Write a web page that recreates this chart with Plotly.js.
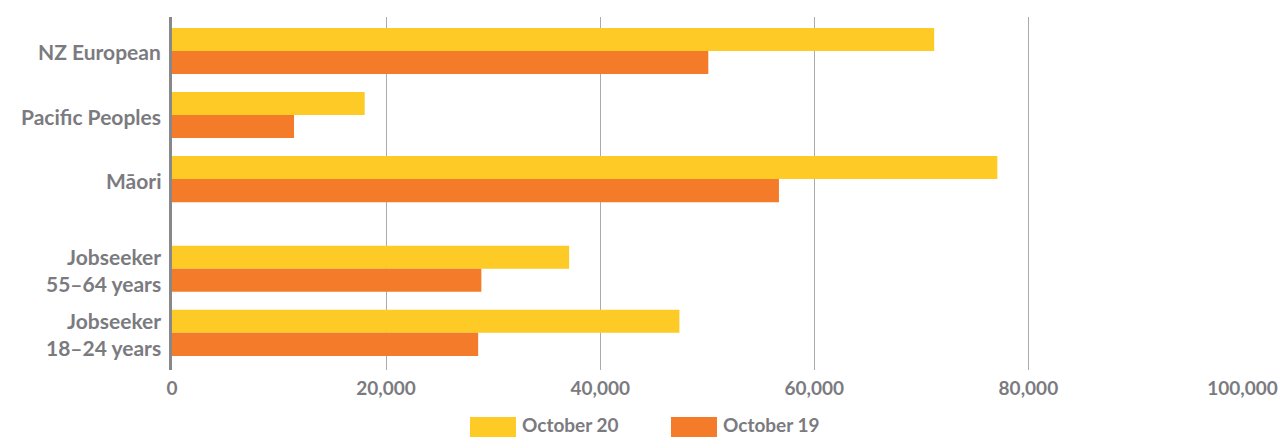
<!DOCTYPE html>
<html>
<head>
<meta charset="utf-8">
<script src="https://cdn.plot.ly/plotly-3.0.1.min.js"></script>
<style>html,body{margin:0;padding:0;background:#fff;}#chart{width:1285px;height:437px;}</style>
</head>
<body>
<div id="chart"></div>
<script>
// ---- data ----
var categories = ["NZ European", "Pacific Peoples", "Māori", "Jobseeker<br>55–64 years", "Jobseeker<br>18–24 years"];
var seriesNames = ["October 20", "October 19"];
var oct20 = [71200, 18000, 77100, 37100, 47400];
var oct19 = [50100, 11400, 56700, 28900, 28600];
var xTickVals = [0, 20000, 40000, 60000, 80000, 100000];
var xTickText = ["0", "20,000", "40,000", "60,000", "80,000", "100,000"];

// ---- layout helpers (row positions: extra gap before the Jobseeker group) ----
var rowPos = [0, 1, 2, 3.4, 4.4];
var colors = ["#FDCA26", "#F47B2A"];
var grey = "#7b7b7f";
var fontFam = "Lato, 'Open Sans', sans-serif";

var traces = [oct20, oct19].map(function (vals, i) {
  return {
    type: "bar",
    orientation: "h",
    name: seriesNames[i],
    x: vals,
    y: rowPos,
    marker: { color: colors[i], line: { width: 0 } },
    hoverinfo: "x+name",
    showlegend: false
  };
});

var shapes = [], annotations = [];

// category labels
categories.forEach(function (c, i) {
  annotations.push({
    xref: "paper", yref: "y", x: 0, y: rowPos[i],
    xanchor: "right", yanchor: "middle", align: "right", xshift: -9, yshift: -1,
    showarrow: false, text: c,
    font: { family: fontFam, size: 21, color: grey, weight: 700 }
  });
});

// custom legend (large swatches)
var legendX = [470, 671];
seriesNames.forEach(function (n, i) {
  shapes.push({
    type: "rect", xref: "paper", yref: "paper", xsizemode: "pixel", ysizemode: "pixel",
    xanchor: 0, yanchor: 0,
    x0: legendX[i] - 172, x1: legendX[i] - 172 + 46,
    y0: -47, y1: -68,
    fillcolor: colors[i], line: { width: 0 }
  });
  annotations.push({
    xref: "paper", yref: "paper", x: (legendX[i] + 50 - 172) / 1071, y: 0,
    yshift: -54, xanchor: "left", yanchor: "middle", showarrow: false,
    text: n, font: { family: fontFam, size: 19, color: grey, weight: 700 }
  });
});

var layout = {
  width: 1285, height: 437,
  margin: { l: 172, r: 42, t: 17, b: 67 },
  paper_bgcolor: "#fff", plot_bgcolor: "#fff",
  barmode: "group",
  bargap: 0.28,
  bargroupgap: 0,
  showlegend: false,
  xaxis: {
    range: [0, 100050],
    tickvals: xTickVals, ticktext: xTickText,
    showgrid: true, gridcolor: "#ababab", gridwidth: 1,
    zeroline: false, showline: false, ticks: "",
    ticklabelstandoff: 5,
    tickfont: { family: fontFam, size: 19, color: grey, weight: 700 },
    fixedrange: true
  },
  yaxis: {
    range: [4.98, -0.53],
    tickvals: rowPos, showticklabels: false,
    showgrid: false, zeroline: false,
    showline: true, linecolor: "#88888b", linewidth: 3,
    ticks: "",
    fixedrange: true
  },
  shapes: shapes,
  annotations: annotations
};

Plotly.newPlot("chart", traces, layout, { displayModeBar: false, staticPlot: true });
</script>
</body>
</html>
